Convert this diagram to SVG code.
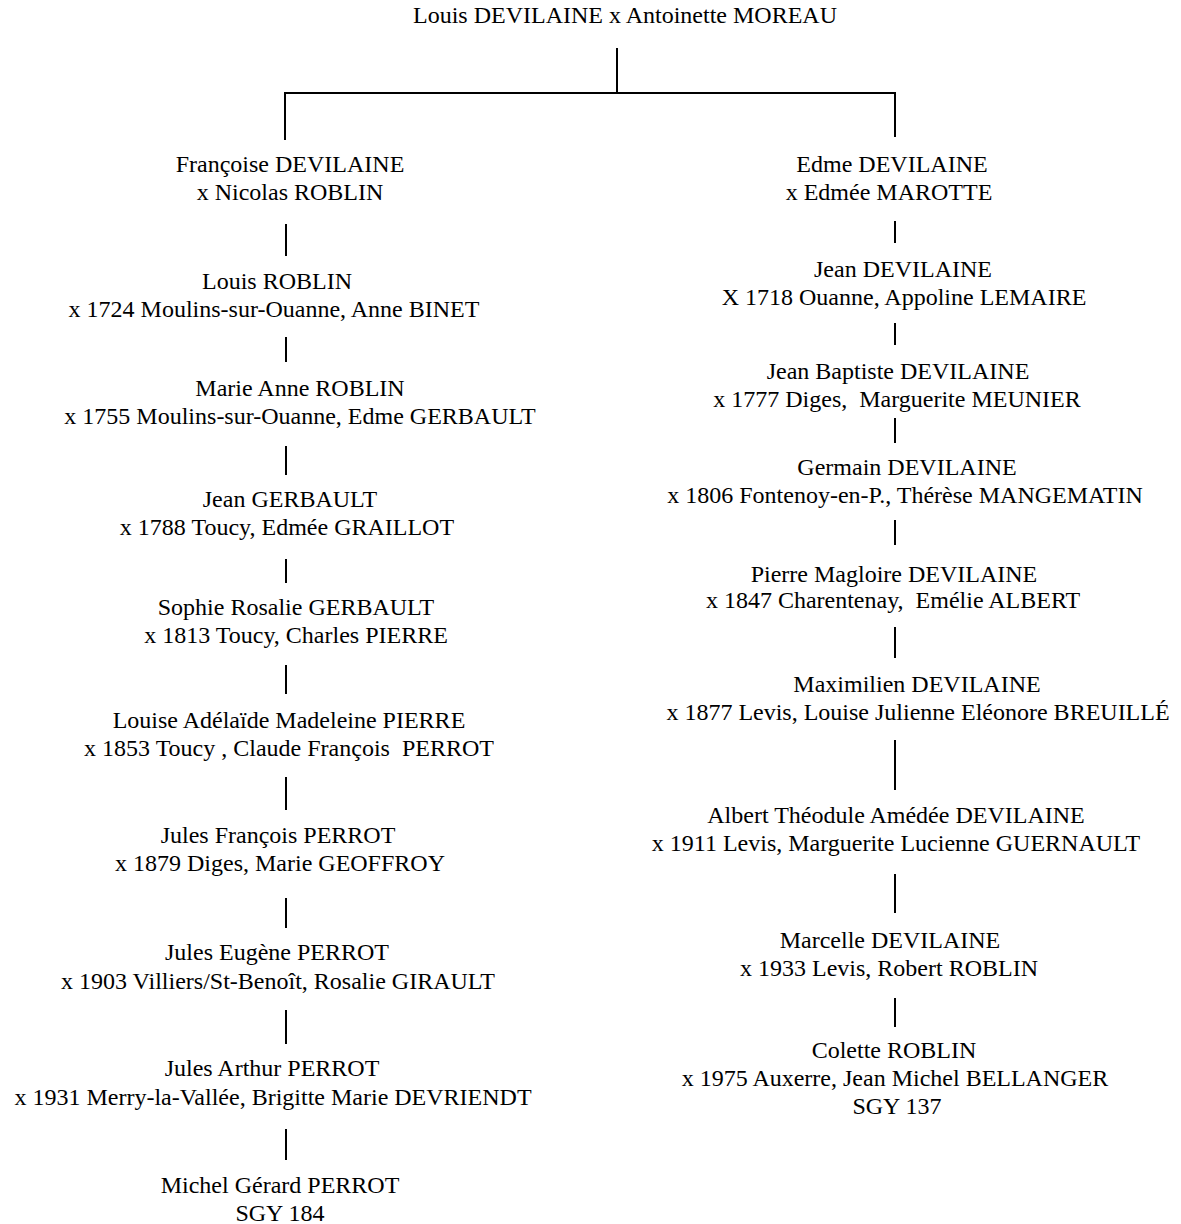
<svg xmlns="http://www.w3.org/2000/svg" width="1181" height="1224" viewBox="0 0 1181 1224">
<style>
text{font-family:"Liberation Serif","Times New Roman",serif;font-size:24px;fill:#000;text-anchor:middle;white-space:pre}
.c line{stroke:#000;stroke-width:2}
</style>
<rect width="1181" height="1224" fill="#fff"/>
<g class="c" id="connectors">
<line x1="617" y1="48" x2="617" y2="93"/>
<line x1="285" y1="93" x2="896" y2="93"/>
<line x1="285" y1="92" x2="285" y2="140"/>
<line x1="895" y1="92" x2="895" y2="137"/>
<line x1="286" y1="224" x2="286" y2="256"/>
<line x1="286" y1="337" x2="286" y2="362"/>
<line x1="286" y1="446" x2="286" y2="475"/>
<line x1="286" y1="559" x2="286" y2="583"/>
<line x1="286" y1="665" x2="286" y2="694"/>
<line x1="286" y1="777" x2="286" y2="810"/>
<line x1="286" y1="898" x2="286" y2="928"/>
<line x1="286" y1="1010" x2="286" y2="1044"/>
<line x1="286" y1="1129" x2="286" y2="1160"/>
<line x1="895" y1="221" x2="895" y2="243"/>
<line x1="895" y1="323" x2="895" y2="345"/>
<line x1="895" y1="418" x2="895" y2="443"/>
<line x1="895" y1="520" x2="895" y2="545"/>
<line x1="895" y1="627" x2="895" y2="658"/>
<line x1="895" y1="740" x2="895" y2="790"/>
<line x1="895" y1="874" x2="895" y2="913"/>
<line x1="895" y1="998" x2="895" y2="1027"/>
</g>
<g id="root"><text x="625" y="23">Louis DEVILAINE x Antoinette MOREAU</text></g>
<g id="l1"><text x="290" y="172">Françoise DEVILAINE</text><text x="290" y="200">x Nicolas ROBLIN</text></g>
<g id="l2"><text x="277" y="289">Louis ROBLIN</text><text x="274" y="317">x 1724 Moulins-sur-Ouanne, Anne BINET</text></g>
<g id="l3"><text x="300" y="396">Marie Anne ROBLIN</text><text x="300" y="424">x 1755 Moulins-sur-Ouanne, Edme GERBAULT</text></g>
<g id="l4"><text x="290" y="507">Jean GERBAULT</text><text x="287" y="535">x 1788 Toucy, Edmée GRAILLOT</text></g>
<g id="l5"><text x="296" y="615">Sophie Rosalie GERBAULT</text><text x="296" y="643">x 1813 Toucy, Charles PIERRE</text></g>
<g id="l6"><text x="289" y="728">Louise Adélaïde Madeleine PIERRE</text><text x="289" y="756">x 1853 Toucy , Claude François  PERROT</text></g>
<g id="l7"><text x="278" y="843">Jules François PERROT</text><text x="280" y="871">x 1879 Diges, Marie GEOFFROY</text></g>
<g id="l8"><text x="277" y="960">Jules Eugène PERROT</text><text x="278" y="989">x 1903 Villiers/St-Benoît, Rosalie GIRAULT</text></g>
<g id="l9"><text x="272" y="1076">Jules Arthur PERROT</text><text x="273" y="1105">x 1931 Merry-la-Vallée, Brigitte Marie DEVRIENDT</text></g>
<g id="l10"><text x="280" y="1193">Michel Gérard PERROT</text><text x="280" y="1221">SGY 184</text></g>
<g id="r1"><text x="892" y="172">Edme DEVILAINE</text><text x="889" y="200">x Edmée MAROTTE</text></g>
<g id="r2"><text x="903" y="277">Jean DEVILAINE</text><text x="904" y="305">X 1718 Ouanne, Appoline LEMAIRE</text></g>
<g id="r3"><text x="898" y="379">Jean Baptiste DEVILAINE</text><text x="897" y="407">x 1777 Diges,  Marguerite MEUNIER</text></g>
<g id="r4"><text x="907" y="475">Germain DEVILAINE</text><text x="905" y="503">x 1806 Fontenoy-en-P., Thérèse MANGEMATIN</text></g>
<g id="r5"><text x="894" y="582">Pierre Magloire DEVILAINE</text><text x="893" y="608">x 1847 Charentenay,  Emélie ALBERT</text></g>
<g id="r6"><text x="917" y="692">Maximilien DEVILAINE</text><text x="918" y="720">x 1877 Levis, Louise Julienne Eléonore BREUILLÉ</text></g>
<g id="r7"><text x="896" y="823">Albert Théodule Amédée DEVILAINE</text><text x="896" y="851">x 1911 Levis, Marguerite Lucienne GUERNAULT</text></g>
<g id="r8"><text x="890" y="948">Marcelle DEVILAINE</text><text x="889" y="976">x 1933 Levis, Robert ROBLIN</text></g>
<g id="r9"><text x="894" y="1058">Colette ROBLIN</text><text x="895" y="1086">x 1975 Auxerre, Jean Michel BELLANGER</text><text x="897" y="1114">SGY 137</text></g>
</svg>
